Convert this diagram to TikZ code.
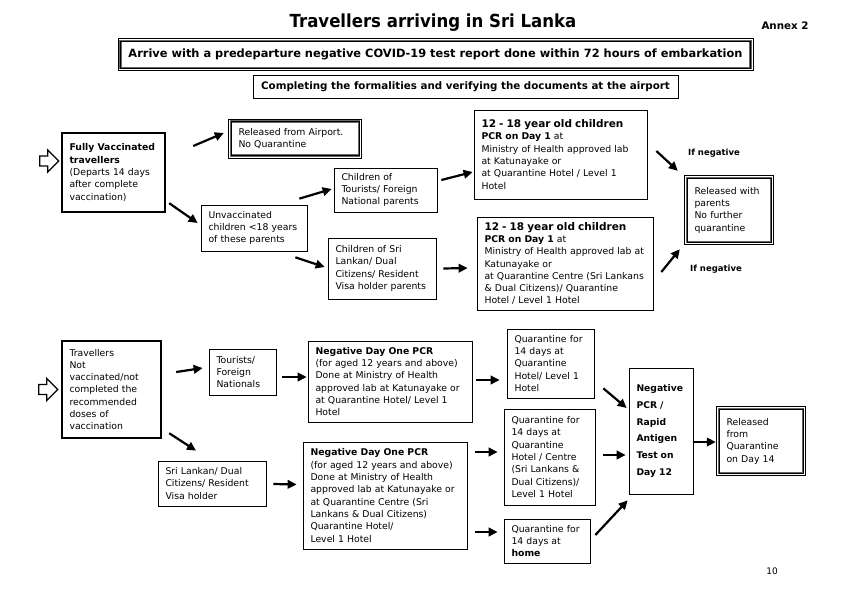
\documentclass[tikz,border=0pt]{standalone}
\usepackage{fontspec}
\setmainfont{DejaVu Sans}
\newfontfamily\titlefont[FakeStretch=0.92]{DejaVu Sans}
\usetikzlibrary{arrows.meta,calc}

\tikzset{
  box/.style={draw, line width=0.7pt, align=left, inner xsep=7.5pt, inner ysep=0pt,
    font=\fontsize{9.3}{12.3}\selectfont},
  thickbox/.style={box, line width=2.4pt},
  dblbox/.style={box, draw=black!60, line width=2.4pt},
  arr/.style={line width=2.2pt, -{Triangle[length=9pt,width=8.5pt]}},
  hollow/.style={line width=1.3pt, line join=miter},
}
\newcommand{\hollowarrow}[1]{\draw[hollow] (#1) -- ++(-11,-11) -- ++(0,6) -- ++(-8,0) -- ++(0,10) -- ++(8,0) -- ++(0,6) -- cycle;}
\newcommand{\edgeframe}[1]{%
  \draw[line width=0.6pt] ($(#1.north west)+(-1.2,-1.2)$) rectangle ($(#1.south east)+(1.2,1.2)$);
  \draw[line width=0.6pt] ($(#1.north west)+(1.2,1.2)$) rectangle ($(#1.south east)+(-1.2,-1.2)$);}

\begin{document}
\begin{tikzpicture}[x=1pt,y=-1pt]
\fill[white] (0,0) rectangle (842,595);
\useasboundingbox (0,0) rectangle (842,595);

% heading
\node[font=\titlefont\bfseries\fontsize{18}{21}\selectfont] (title) at (433,23) {Travellers arriving in Sri Lanka};
\node[font=\bfseries\fontsize{10.3}{12}\selectfont] (annex) at (785,26) {Annex 2};
\node[draw=black!60, line width=2.4pt, minimum width=630pt, minimum height=27pt,
  font=\bfseries\fontsize{11.4}{13}\selectfont] (arrive) at (435.5,54.5)
  {Arrive with a predeparture negative COVID-19 test report done within 72 hours of embarkation};
\edgeframe{arrive}
\node[draw, line width=0.7pt, minimum width=425pt, minimum height=23pt,
  font=\bfseries\fontsize{10.3}{12}\selectfont] (formal) at (465.5,86.5)
  {Completing the formalities and verifying the documents at the airport};

% fully vaccinated
\node[thickbox, text width=88pt, minimum height=79pt] (fully) at (113.5,172.5)
  {\textbf{Fully Vaccinated}\\\textbf{travellers}\\(Departs 14 days\\after complete\\vaccination)};
\node[dblbox, text width=113pt, minimum height=34pt] (released) at (295,138.5)
  {Released from Airport.\\No Quarantine};
\edgeframe{released}
\node[box, text width=91pt, minimum height=46pt] (unvacc) at (254,228)
  {Unvaccinated\\children <18 years\\of these parents};
\node[box, text width=88pt, minimum height=44pt] (tourkids) at (385.5,190)
  {Children of\\Tourists/ Foreign\\National parents};
\node[box, text width=93pt, minimum height=61pt] (slkids) at (382,268.5)
  {Children of Sri\\Lankan/ Dual\\Citizens/ Resident\\Visa holder parents};
\node[box, text width=158pt, minimum height=89pt] (pcrA) at (560.5,154.5)
  {\textbf{\fontsize{10.5}{12.3}\selectfont 12 - 18 year old children}\\\textbf{PCR on Day 1} at\\Ministry of Health approved lab\\at Katunayake or\\at Quarantine Hotel / Level 1\\Hotel};
\node[box, text width=161pt, minimum height=93pt] (pcrB) at (565,263.5)
  {\textbf{\fontsize{10.5}{12.3}\selectfont 12 - 18 year old children}\\\textbf{PCR on Day 1} at\\Ministry of Health approved lab at\\Katunayake or\\at Quarantine Centre (Sri Lankans\\\& Dual Citizens)/ Quarantine\\Hotel / Level 1 Hotel};
\node[dblbox, text width=69pt, minimum height=64pt] (relkids) at (729,210)
  {Released with\\parents\\No further\\quarantine};
\edgeframe{relkids}
\node[font=\bfseries\fontsize{8.5}{10}\selectfont] (ifnegA) at (714,153) {If negative};
\node[font=\bfseries\fontsize{8.5}{10}\selectfont] (ifnegB) at (716,269) {If negative};

% not vaccinated
\node[thickbox, text width=84pt, minimum height=97pt] (notvacc) at (111.5,389.5)
  {Travellers\\Not\\vaccinated/not\\completed the\\recommended\\doses of\\vaccination};
\node[box, text width=52pt, minimum height=46pt] (tourists) at (242.5,372)
  {Tourists/\\Foreign\\Nationals};
\node[box, text width=93pt, minimum height=45pt] (slres) at (212,483.5)
  {Sri Lankan/ Dual\\Citizens/ Resident\\Visa holder};
\node[box, text width=149pt, minimum height=81pt] (negA) at (390,381.5)
  {\textbf{Negative Day One PCR}\\(for aged 12 years and above)\\Done at Ministry of Health\\approved lab at Katunayake or\\at Quarantine Hotel/ Level 1\\Hotel};
\node[box, text width=149pt, minimum height=107pt] (negB) at (385,495.5)
  {\textbf{Negative Day One PCR}\\(for aged 12 years and above)\\Done at Ministry of Health\\approved lab at Katunayake or\\at Quarantine Centre (Sri\\Lankans \& Dual Citizens)\\Quarantine Hotel/\\Level 1 Hotel};
\node[box, text width=72pt, minimum height=69pt] (quarA) at (550.5,363.5)
  {Quarantine for\\14 days at\\Quarantine\\Hotel/ Level 1\\Hotel};
\node[box, text width=76pt, minimum height=96pt] (quarB) at (549.5,457)
  {Quarantine for\\14 days at\\Quarantine\\Hotel / Centre\\(Sri Lankans \&\\Dual Citizens)/\\Level 1 Hotel};
\node[box, text width=71pt, minimum height=44pt] (quarH) at (547,541)
  {Quarantine for\\14 days at\\\textbf{home}};
\node[box, text width=49pt, minimum height=126pt, font=\bfseries\fontsize{9.2}{16.8}\selectfont] (day12) at (661,431)
  {Negative\\PCR /\\Rapid\\Antigen\\Test on\\Day 12};
\node[dblbox, text width=69pt, minimum height=64pt] (relq) at (761,441)
  {Released\\from\\Quarantine\\on Day 14};
\edgeframe{relq}
\node[font=\fontsize{9}{11}\selectfont] (page) at (772,571) {10};

% entry arrows
\hollowarrow{$(fully.west)+(-2,-11.5)$}
\hollowarrow{$(notvacc.west)+(-3,0)$}

% connectors, upper part
\draw[arr] ($(fully.east)+(27,-26.5)$) -- ($(released.west)+(-6,-5.5)$);
\draw[arr] ($(fully.south east)+(3,-10)$) -- ($(unvacc.west)+(-3,-5)$);
\draw[arr] ($(unvacc.north east)+(-8,-6)$) -- ($(tourkids.west)+(-2,-1)$);
\draw[arr] ($(unvacc.south east)+(-12,6)$) -- ($(slkids.west)+(-3,-1.5)$);
\draw[arr] ($(tourkids.east)+(4,-10)$) -- ($(pcrA.west)+(-1,17.5)$);
\draw[arr] ($(slkids.east)+(7,0)$) -- ($(pcrB.west)+(-9,4.5)$);
\draw[arr] ($(pcrA.east)+(9,-3.5)$) -- ($(relkids.north west)+(-8,-6)$);
\draw[arr] ($(pcrB.east)+(8,8.5)$) -- ($(relkids.south west)+(-6,6)$);

% connectors, lower part
\draw[arr] ($(notvacc.east)+(14,-17.5)$) -- ($(tourists.west)+(-6,-4)$);
\draw[arr] ($(tourists.east)+(6,5)$) -- ($(negA.west)+(-1,-4.5)$);
\draw[arr] ($(notvacc.south east)+(7,-6)$) -- ($(slres.north)+(-16,-10)$);
\draw[arr] ($(slres.east)+(7,0.5)$) -- ($(negB.west)+(-6,-11)$);
\draw[arr] ($(negA.east)+(4,-1.5)$) -- ($(quarA.west)+(-7,16.5)$);
\draw[arr] ($(negB.east)+(8,-43.5)$) -- ($(quarB.west)+(-6,-5)$);
\draw[arr] ($(negB.east)+(8,36.5)$) -- ($(quarH.west)+(-6,-9)$);
\draw[arr] ($(quarA.south east)+(9,-10)$) -- ($(day12.west)+(-2,-23)$);
\draw[arr] ($(quarB.east)+(8,-2)$) -- ($(day12.west)+(-3,24)$);
\draw[arr] ($(quarH.east)+(5,-6)$) -- ($(day12.south west)+(-1,6)$);
\draw[arr] ($(day12.east)+(0,11)$) -- ($(relq.west)+(-2,1)$);
\end{tikzpicture}
\end{document}
